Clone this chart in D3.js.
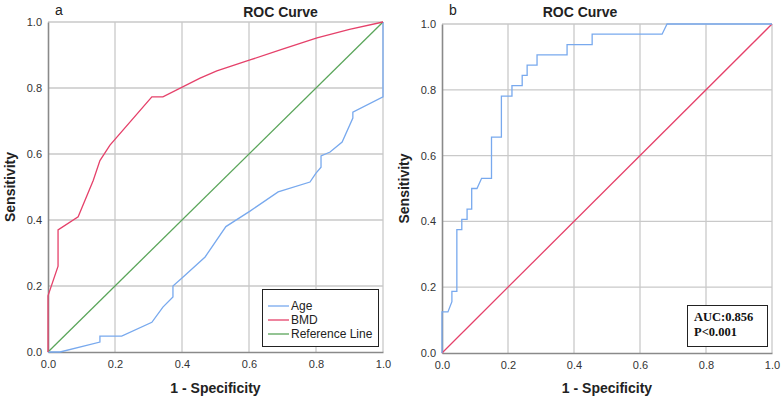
<!DOCTYPE html>
<html>
<head>
<meta charset="utf-8">
<script src="https://cdn.jsdelivr.net/npm/d3@7"></script>
<style>
  body { margin: 0; background: #fff; }
  svg { display: block; font-family: "Liberation Sans", Arial, sans-serif; }
</style>
</head>
<body>
<svg id="chart" width="782" height="401"></svg>
<script>
// Panel a: [1 - specificity, sensitivity]
const ageA = [[0,0],[0.036,0],[0.155,0.03],[0.155,0.048],[0.22,0.048],[0.31,0.09],[0.343,0.136],[0.373,0.167],[0.373,0.2],[0.4,0.224],[0.469,0.288],[0.531,0.38],[0.603,0.427],[0.687,0.485],[0.782,0.515],[0.8,0.542],[0.815,0.56],[0.815,0.594],[0.842,0.606],[0.878,0.636],[0.91,0.709],[0.91,0.727],[1,0.773],[1,1]];
const bmdA = [[0,0],[0,0.17],[0.03,0.26],[0.03,0.37],[0.09,0.41],[0.135,0.52],[0.155,0.58],[0.185,0.627],[0.31,0.773],[0.343,0.773],[0.454,0.83],[0.504,0.852],[0.603,0.885],[0.7,0.918],[0.803,0.952],[0.9,0.978],[1,1]];
const refLine = [[0,0],[1,1]];

// Panel b
const rocB = [[0,0],[0,0.125],[0.018,0.125],[0.03,0.156],[0.03,0.1875],[0.045,0.1875],[0.045,0.375],[0.06,0.375],[0.06,0.406],[0.076,0.406],[0.076,0.4375],[0.09,0.4375],[0.09,0.5],[0.106,0.5],[0.12,0.531],[0.15,0.531],[0.15,0.656],[0.18,0.656],[0.18,0.781],[0.212,0.781],[0.212,0.8125],[0.243,0.8125],[0.243,0.844],[0.258,0.844],[0.258,0.875],[0.288,0.875],[0.288,0.906],[0.379,0.906],[0.379,0.9375],[0.455,0.9375],[0.455,0.969],[0.667,0.969],[0.682,1],[1,1]];

const ticks = [0, 0.2, 0.4, 0.6, 0.8, 1.0];
const legendItems = ["Age", "BMD", "Reference Line"];
const annotation = ["AUC:0.856", "P<0.001"];

const blue = "#78a9ee";
const red = "#e5416a";
const green = "#5aa55a";

const svg = d3.select("#chart");

function drawPanel(opts) {
    const x = d3.scaleLinear().domain([0, 1]).range([opts.left, opts.right]);
    const y = d3.scaleLinear().domain([0, 1]).range([opts.bottom, opts.top]);
    const g = svg.append("g");

    // grid
    g.selectAll("line.vg").data(ticks.slice(1)).enter().append("line")
        .attr("x1", d => x(d)).attr("x2", d => x(d))
        .attr("y1", opts.top).attr("y2", opts.bottom)
        .attr("stroke", "#c9c9c9").attr("stroke-width", 1.3);
    g.selectAll("line.hg").data(ticks.slice(1)).enter().append("line")
        .attr("x1", opts.left).attr("x2", opts.right)
        .attr("y1", d => y(d)).attr("y2", d => y(d))
        .attr("stroke", "#c9c9c9").attr("stroke-width", 1.3);

    // axes
    const xAxis = g.append("g").attr("transform", `translate(0,${opts.bottom})`)
        .call(d3.axisBottom(x).tickValues(ticks).tickFormat(d3.format(".1f")).tickSize(0).tickPadding(8));
    const yAxis = g.append("g").attr("transform", `translate(${opts.left},0)`)
        .call(d3.axisLeft(y).tickValues(ticks).tickFormat(d3.format(".1f")).tickSize(0).tickPadding(6));
    [xAxis, yAxis].forEach(a => {
        a.select(".domain").attr("stroke", "#8a8a8a").attr("stroke-width", 1.6);
        a.selectAll("text").attr("font-size", 11).attr("fill", "#333")
            .attr("font-family", "'Liberation Sans', Arial, sans-serif");
    });

    const line = d3.line().x(d => x(d[0])).y(d => y(d[1]));
    opts.series.forEach(s => {
        g.append("path").datum(s.data)
            .attr("d", line)
            .attr("fill", "none")
            .attr("stroke", s.color)
            .attr("stroke-width", 1.3);
    });

    // titles
    g.append("text").attr("x", opts.letterX).attr("y", 15)
        .attr("font-size", 14).attr("fill", "#222").text(opts.letter);
    g.append("text").attr("x", (opts.left + opts.right) / 2 + opts.titleShift).attr("y", 17)
        .attr("text-anchor", "middle").attr("font-size", 14).attr("font-weight", "bold")
        .attr("fill", "#222").text("ROC Curve");
    g.append("text").attr("x", (opts.left + opts.right) / 2).attr("y", 393)
        .attr("text-anchor", "middle").attr("font-size", 14).attr("font-weight", "bold")
        .attr("fill", "#222").text("1 - Specificity");
    g.append("text")
        .attr("transform", `translate(${opts.ylabX},${(opts.top + opts.bottom) / 2}) rotate(-90)`)
        .attr("text-anchor", "middle").attr("font-size", 14).attr("font-weight", "bold")
        .attr("fill", "#222").text("Sensitivity");
    return { x, y, g };
}

const pa = drawPanel({
    left: 48, right: 383, top: 22, bottom: 352,
    letter: "a", letterX: 55, titleShift: 65, ylabX: 15,
    series: [
        { data: refLine, color: green },
        { data: ageA, color: blue },
        { data: bmdA, color: red }
    ]
});

const pb = drawPanel({
    left: 442, right: 772, top: 24, bottom: 353,
    letter: "b", letterX: 449, titleShift: -27, ylabX: 409,
    series: [
        { data: refLine, color: red },
        { data: rocB, color: blue }
    ]
});

// legend (panel a)
const legend = svg.append("g");
legend.append("rect").attr("x", 262.5).attr("y", 289.5).attr("width", 116).attr("height", 57)
    .attr("fill", "#fff").attr("stroke", "#222").attr("stroke-width", 1);
const legColors = [blue, red, green];
legendItems.forEach((t, i) => {
    const yy = 306 + i * 14;
    legend.append("line").attr("x1", 268).attr("x2", 289).attr("y1", yy).attr("y2", yy)
        .attr("stroke", legColors[i]).attr("stroke-width", 1.3);
    legend.append("text").attr("x", 291).attr("y", yy + 4).attr("font-size", 12)
        .attr("fill", "#222").text(t);
});

// annotation box (panel b)
const ann = svg.append("g");
ann.append("rect").attr("x", 687.5).attr("y", 305.5).attr("width", 80).attr("height", 41)
    .attr("fill", "#fff").attr("stroke", "#222").attr("stroke-width", 1);
annotation.forEach((t, i) => {
    ann.append("text").attr("x", 694).attr("y", 321 + i * 15)
        .attr("font-family", "'Liberation Serif', 'Times New Roman', serif")
        .attr("font-size", 12.5).attr("font-weight", "bold").attr("fill", "#111").text(t);
});
</script>
</body>
</html>
